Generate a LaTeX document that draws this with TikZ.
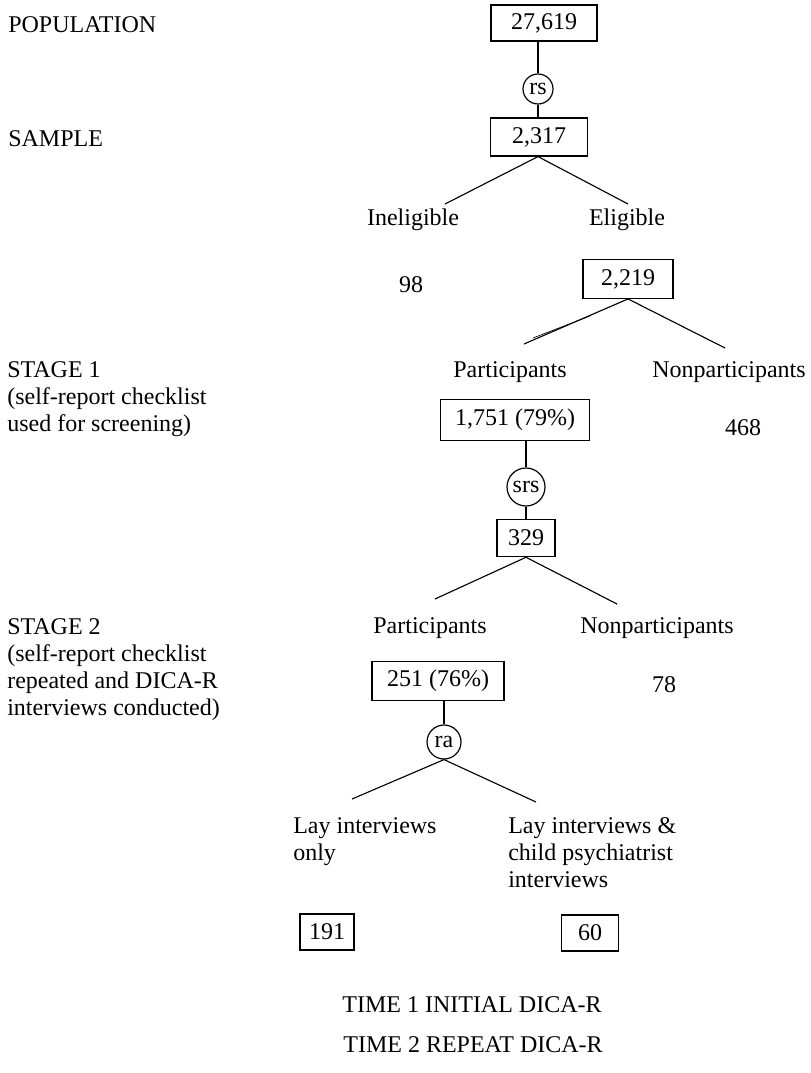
\documentclass[tikz,border=0pt]{standalone}
\usepackage{fontspec}
\setmainfont{Liberation Serif}
\begin{document}
\begin{tikzpicture}[x=0.75pt,y=-0.75pt,
  every node/.style={font=\fontsize{18}{20.25}\selectfont, inner sep=0pt},
  numbox/.style={draw, line width=0.9pt, inner sep=0pt},
  samp/.style={draw, circle, line width=0.9pt, inner sep=0pt},
  lbl/.style={anchor=base},
  side/.style={anchor=base west, align=left},
  conn/.style={line width=0.85pt}]
\useasboundingbox (0,0) rectangle (810,1073);
% left column (anchor = baseline of the last line)
\node[side] (popL) at (8,33) {POPULATION};
\node[side] (sampL) at (8,147) {SAMPLE};
\node[side] (st1) at (7,431) {STAGE 1\\(self-report checklist\\used for screening)};
\node[side] (st2) at (7,715) {STAGE 2\\(self-report checklist\\repeated and DICA-R\\interviews conducted)};
% tree
\node[numbox, minimum width=79.5pt, minimum height=27pt] (n1) at (544,23) {27,619};
\node[samp, minimum size=22.5pt] (rs) at (538,89) {rs};
\node[numbox, minimum width=72.75pt, minimum height=28.5pt] (n2) at (539,137) {2,317};
\node[lbl] (inel) at (413,225) {Ineligible};
\node[lbl] (elig) at (627,225) {Eligible};
\node[lbl] (n98) at (411,292) {98};
\node[numbox, minimum width=67.5pt, minimum height=29pt] (n3) at (628,279) {2,219};
\node[lbl] (part1) at (510,377) {Participants};
\node[lbl] (nonp1) at (729,377) {Nonparticipants};
\node[numbox, minimum width=111.75pt, minimum height=30.5pt] (n4) at (515,420) {1,751 (79\%)};
\node[lbl] (n468) at (743,435) {468};
\node[samp, minimum size=28.5pt] (srs) at (526,487) {srs};
\node[numbox, minimum width=43.5pt, minimum height=28pt] (n5) at (526,538) {329};
\node[lbl] (part2) at (430,633) {Participants};
\node[lbl] (nonp2) at (657,633) {Nonparticipants};
\node[numbox, minimum width=99pt, minimum height=29pt] (n6) at (438,681) {251 (76\%)};
\node[lbl] (n78) at (664,692) {78};
\node[samp, minimum size=25.5pt] (ra) at (444,742) {ra};
\node[side] (lay1) at (293,860) {Lay interviews\\only};
\node[side] (lay2) at (508,887) {Lay interviews \&\\child psychiatrist\\interviews};
\node[numbox, minimum width=40.5pt, minimum height=27pt] (n191) at (327,932) {191};
\node[numbox, minimum width=42.75pt, minimum height=27pt] (n60) at (590,933) {60};
\node[lbl] (t1) at (472,1012) {TIME 1 INITIAL DICA-R};
\node[lbl] (t2) at (473,1052) {TIME 2 REPEAT DICA-R};
% branch ends
\coordinate (e1a) at (445,204);
\coordinate (e1b) at (628,204);
\coordinate (e2a) at (524,344);
\coordinate (e2b) at (725,348);
\coordinate (e2c) at (533,338);
\coordinate (e2d) at (590,316);
\coordinate (e3a) at (435,599);
\coordinate (e3b) at (617,604);
\coordinate (e4a) at (352,799);
\coordinate (e4b) at (536,802);
% connectors
\draw[conn] (n1.south -| rs) -- (rs.north);
\draw[conn] (rs.south) -- (n2.north -| rs);
\draw[conn] (n2.south -| rs) -- (e1a);
\draw[conn] (n2.south -| rs) -- (e1b);
\draw[conn] (n3.south) -- (e2a);
\draw[conn] (n3.south) -- (e2b);
\draw[line width=0.5pt] (e2c) -- (e2d);
\draw[conn] (n4.south -| srs) -- (srs.north);
\draw[conn] (srs.south) -- (n5.north);
\draw[conn] (n5.south) -- (e3a);
\draw[conn] (n5.south) -- (e3b);
\draw[conn] (n6.south -| ra) -- (ra.north);
\draw[conn] (ra.south) -- (e4a);
\draw[conn] (ra.south) -- (e4b);
\end{tikzpicture}
\end{document}
